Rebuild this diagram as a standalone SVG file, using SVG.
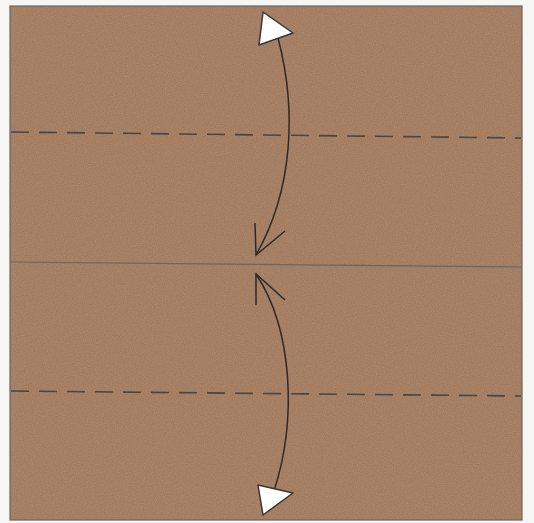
<svg xmlns="http://www.w3.org/2000/svg" width="534" height="523" viewBox="0 0 534 523">
<defs>
<style>
.crease{stroke:#4a4442;stroke-width:1.6;fill:none}
.valley{stroke-dasharray:18 10}
.mountain{stroke:#6a6466;stroke-width:1.2;fill:none}
.arrow{stroke:#2e2a28;stroke-width:1.5;fill:none}
.head{fill:#ffffff;stroke:#3a3532;stroke-width:1.5;stroke-linejoin:round}
</style>
<filter id="tex" x="0" y="0" width="100%" height="100%">
<feTurbulence type="fractalNoise" baseFrequency="0.9" numOctaves="2" seed="3" result="n"/>
<feColorMatrix in="n" type="matrix" values="0 0 0 0 0.72  0 0 0 0 0.56  0 0 0 0 0.44  0 0 0 0.3 0" result="c"/>
<feComposite in="c" in2="SourceGraphic" operator="in"/>
</filter>
</defs>
<rect x="0" y="0" width="534" height="523" fill="#f6f6f4"/>
<g id="paper">
<rect x="10" y="6" width="512" height="514" fill="#9b7357"/>
<rect x="10" y="6" width="512" height="514" fill="#b08a6c" filter="url(#tex)"/>
<rect x="10" y="6" width="512" height="514" fill="none" stroke="#6e6460" stroke-width="1.2"/>
</g>
<g id="creases">
<line class="crease valley" x1="11" y1="132" x2="521" y2="138"/>
<line class="mountain" x1="11" y1="262" x2="521" y2="267"/>
<line class="crease valley" x1="11" y1="391" x2="521" y2="396"/>
</g>
<g id="connectors">
<path class="arrow" d="M278,38 C297,110 293,190 256,255"/>
<path class="arrow" d="M255,223 L256,255 L285,231"/>
<path class="arrow" d="M256,274 C293,330 297,420 274,491"/>
<path class="arrow" d="M256,305 L256,274 L285,300"/>
<polygon class="head" points="263,12 293,33 259,45"/>
<polygon class="head" points="258,485 293,493 263,515"/>
</g>
</svg>
